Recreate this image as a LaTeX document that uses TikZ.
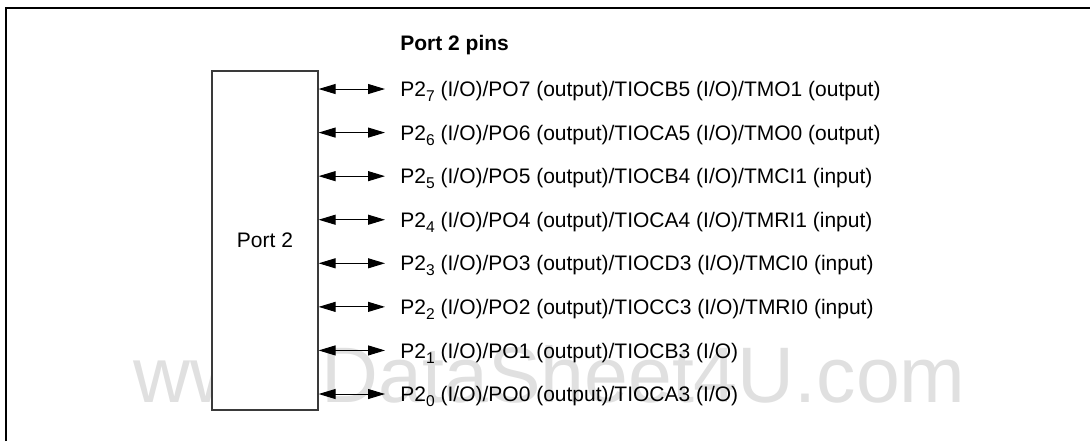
\documentclass[tikz,border=0pt]{standalone}
\usepackage{fontspec}
\setmainfont{Liberation Sans}
\usepackage{tikz}
\usetikzlibrary{arrows.meta,positioning}
\definecolor{ink}{HTML}{000000}
\definecolor{edge}{HTML}{3A3A3A}
\definecolor{ghost}{HTML}{E0E0E0}
\newcommand{\pin}[1]{P2\raisebox{-0.45ex}{\fontsize{7.8}{8}\selectfont #1}}
\newcommand{\lblfont}{\fontsize{10.5}{12}\selectfont}
\tikzset{
  frame/.style={draw=ink, line width=1pt},
  portbox/.style={rectangle, draw=edge, fill=white, line width=0.6pt, inner sep=0pt,
                  minimum width=53pt, minimum height=169.5pt, font=\lblfont},
  pinlbl/.style={anchor=base west, inner sep=0pt, font=\lblfont},
  hdr/.style={anchor=base west, inner sep=0pt, font=\lblfont\bfseries},
  stamp/.style={anchor=base west, inner sep=0pt, text=ghost, font=\fontsize{39.4}{40}\selectfont},
  link/.style={{Triangle[length=8.5pt,width=5pt]}-{Triangle[length=8.5pt,width=5pt]},
               draw=ink, line width=0.5pt},
}

\begin{document}
\begin{tikzpicture}[x=0.5pt, y=-0.5pt]
\useasboundingbox (0,0) rectangle (1090,441);
\draw[frame] (6,441) -- (6,8) -- (1090,8);
% watermark sits under everything
\node[stamp] (wm) at (133,402) {www.DataSheet4U.com};
\node[portbox] (port) at (265,240.5) {Port 2};
\node[hdr] (pins) at (400,50) {Port 2 pins};
\foreach \k/\txt in {
  7/{(I/O)/PO7 (output)/TIOCB5 (I/O)/TMO1 (output)},
  6/{(I/O)/PO6 (output)/TIOCA5 (I/O)/TMO0 (output)},
  5/{(I/O)/PO5 (output)/TIOCB4 (I/O)/TMCI1 (input)},
  4/{(I/O)/PO4 (output)/TIOCA4 (I/O)/TMRI1 (input)},
  3/{(I/O)/PO3 (output)/TIOCD3 (I/O)/TMCI0 (input)},
  2/{(I/O)/PO2 (output)/TIOCC3 (I/O)/TMRI0 (input)},
  1/{(I/O)/PO1 (output)/TIOCB3 (I/O)},
  0/{(I/O)/PO0 (output)/TIOCA3 (I/O)}} {
  \pgfmathsetmacro\yy{394-43.57*\k}
  \coordinate (p\k) at (385,\yy);
  \node[pinlbl] (l\k) at ([xshift=7.5pt, yshift=-3.8pt]p\k) {\pin{\k} \txt};
  \draw[link] (port.east |- p\k) -- (p\k);
}
\end{tikzpicture}
\end{document}
